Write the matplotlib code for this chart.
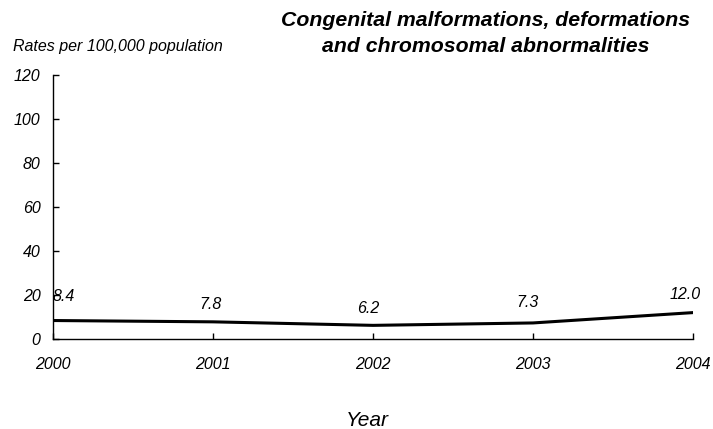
import matplotlib
matplotlib.use("Agg")
import matplotlib.pyplot as plt

years = ["2000", "2001", "2002", "2003", "2004"]
rates = [8.4, 7.8, 6.2, 7.3, 12.0]
yticks = [0, 20, 40, 60, 80, 100, 120]

plt.rcParams['font.family'] = ['Liberation Sans', 'DejaVu Sans']

fig = plt.figure(figsize=(7.13, 4.29), dpi=100)
W, H = 713, 429
x0, x1, ytop, ybot = 53, 693, 75, 339
ax = fig.add_axes([x0 / W, 1 - ybot / H, (x1 - x0) / W, (ybot - ytop) / H])

xs = list(range(len(years)))
ax.plot(xs, rates, color='black', lw=2.2, solid_joinstyle='round')
ax.set_xlim(0, len(years) - 1)
ax.set_ylim(0, 120)
ax.set_yticks(yticks)
ax.set_yticklabels([str(v) for v in yticks], fontstyle='italic', fontsize=11.5)
ax.set_xticks(xs)
ax.set_xticklabels(years, fontstyle='italic', fontsize=11.5)
for s in ['top', 'right']:
    ax.spines[s].set_visible(False)
for s in ['left', 'bottom']:
    ax.spines[s].set_linewidth(1.0)
ax.tick_params(axis='y', direction='in', length=4, width=1, pad=9)
ax.tick_params(axis='x', direction='in', length=4, width=1, pad=13)

label_dy = [17, 12.2, 12.2, 14.4, 13]   # points above the data point
label_dx = [0, -2, -3.6, -4.3, -5.8]
for i, v in enumerate(rates):
    ha = 'left' if i == 0 else 'center'
    ax.annotate(f"{v:.1f}", (i, v), xytext=(label_dx[i], label_dy[i]), textcoords='offset points',
                ha=ha, va='center', fontsize=11.5, fontstyle='italic')

fig.text(13 / W, 1 - 47 / H, "Rates per 100,000 population", fontsize=11.5,
         fontstyle='italic', ha='left', va='center')
fig.text(486 / W, 1 - 21 / H, "Congenital malformations, deformations",
         fontsize=15.3, fontstyle='italic', fontweight='bold', ha='center', va='center')
fig.text(486 / W, 1 - 46 / H, "and chromosomal abnormalities",
         fontsize=15.3, fontstyle='italic', fontweight='bold', ha='center', va='center')
fig.text(367 / W, 1 - 420 / H, "Year", fontsize=15, fontstyle='italic', ha='center', va='center')

fig.savefig("out.png", dpi=100)
